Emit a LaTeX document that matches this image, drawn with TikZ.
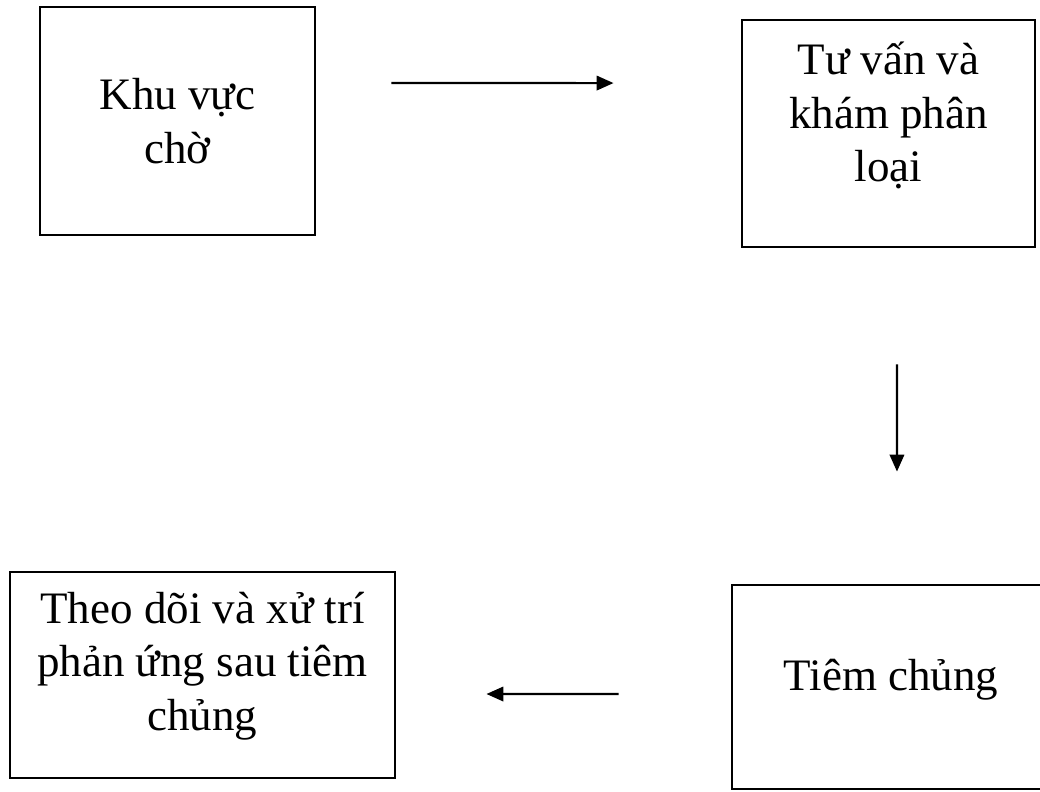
\documentclass[tikz,border=0pt]{standalone}
\usepackage{fontspec}
\setmainfont{Liberation Serif}
\usetikzlibrary{arrows.meta}

\begin{document}
\begin{tikzpicture}[x=0.025cm, y=-0.025cm,
  box/.style={draw, line width=2pt, inner sep=0pt},
  boxtext/.style={align=center, inner sep=0pt, font=\fontsize{32}{38}\selectfont},
  flow/.style={-{Triangle[length=0.42cm, width=0.36cm]}, line width=1.5pt}]
\useasboundingbox (0,0) rectangle (1040,791);

\node[box, minimum width=6.875cm, minimum height=5.7cm] (khu) at (177.5,121) {};
\node[box, minimum width=7.325cm, minimum height=5.675cm] (tuvan) at (888.5,133.5) {};
\node[box, minimum width=7.95cm, minimum height=5.1cm] (tiem) at (891,687) {};
\node[box, minimum width=9.625cm, minimum height=5.15cm] (theo) at (202.5,675) {};

\node[boxtext] (khutext) at (177.5,121) {Khu vực\\chờ};
\node[boxtext] (tuvantext) at (888.5,115.5) {Tư vấn và\\khám phân\\loại};
\node[boxtext] (tiemtext) at (891,680) {Tiêm chủng};
\node[boxtext] (theotext) at (202.5,666) {Theo dõi và xử trí\\phản ứng sau tiêm\\chủng};

\draw[flow, shorten <=1.875cm, shorten >=3.175cm] ([yshift=0.95cm]khu.east) -- ([yshift=1.26cm]tuvan.west);
\draw[flow, shorten <=2.9cm, shorten >=2.8cm] ([xshift=0.21cm]tuvan.south) -- ([xshift=0.15cm]tiem.north);
\draw[flow, shorten <=2.8cm, shorten >=2.25cm] ([yshift=-0.175cm]tiem.west) -- ([yshift=-0.475cm]theo.east);

\end{tikzpicture}
\end{document}
